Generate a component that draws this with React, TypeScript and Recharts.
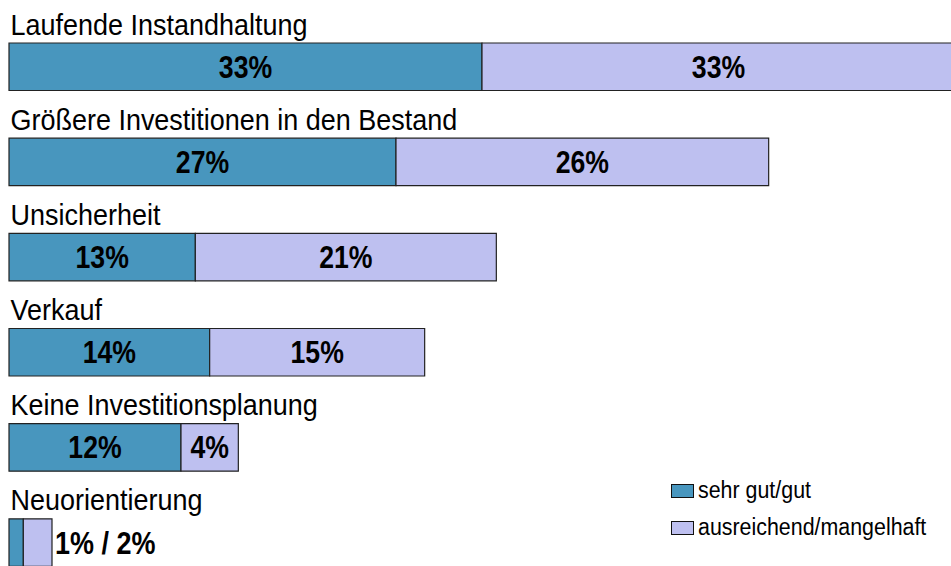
import React from 'react';
import { Bar, BarChart, LabelList, Legend, XAxis, YAxis } from 'recharts';

const categories = [
  'Laufende Instandhaltung',
  'Größere Investitionen in den Bestand',
  'Unsicherheit',
  'Verkauf',
  'Keine Investitionsplanung',
  'Neuorientierung',
];
const sehrGut = [33, 27, 13, 14, 12, 1];
const ausreichend = [33, 26, 21, 15, 4, 2];

const seriesNames = ['sehr gut/gut', 'ausreichend/mangelhaft'];
const colors = ['#4896be', '#bec0f0'];

const data = categories.map((name, i) => ({
  name,
  good: sehrGut[i],
  poor: ausreichend[i],
}));

const FONT = '"Liberation Sans", Arial, sans-serif';

function box(props: any) {
  const vb = props.viewBox ?? props;
  return { x: Number(vb.x), y: Number(vb.y), w: Number(vb.width), h: Number(vb.height) };
}

function CategoryLabel(props: any) {
  const { x, y } = box(props);
  return (
    <text
      transform={`translate(${x + 1.5}, ${y - 8.5}) scale(0.93, 1)`}
      fontFamily={FONT}
      fontSize={29}
      fill="#000"
    >
      {props.value}
    </text>
  );
}

// small segments get one combined label to the right of the bar
function ValueLabel(props: any) {
  const { x, y, w, h } = box(props);
  const i = props.index;
  const narrow = sehrGut[i] * 14.33 < 30;
  const cy = y + h / 2 + 11;
  if (narrow) {
    if (props.series !== 'poor') return null;
    return (
      <text
        transform={`translate(${x + w + 3}, ${cy}) scale(0.87, 1)`}
        fontFamily={FONT}
        fontSize={31}
        fontWeight="bold"
        fill="#000"
      >
        {`${sehrGut[i]}% / ${ausreichend[i]}%`}
      </text>
    );
  }
  return (
    <text
      transform={`translate(${x + w / 2}, ${cy}) scale(0.86, 1)`}
      textAnchor="middle"
      fontFamily={FONT}
      fontSize={31}
      fontWeight="bold"
      fill="#000"
    >
      {`${props.value}%`}
    </text>
  );
}

function LegendBox() {
  return (
    <div style={{ fontFamily: FONT, fontSize: 23, color: '#000' }}>
      {seriesNames.map((n, i) => (
        <div key={n} style={{ display: 'flex', alignItems: 'center', height: 37 }}>
          <span
            style={{
              display: 'inline-block',
              width: 21,
              height: 12,
              background: colors[i],
              border: '1.5px solid #111',
              marginRight: 4,
            }}
          />
          <span style={{ display: 'inline-block', transform: 'scaleX(0.93)', transformOrigin: 'left center', whiteSpace: 'nowrap' }}>
            {n}
          </span>
        </div>
      ))}
    </div>
  );
}

export default function App() {
  return (
    <div
      style={{
        position: 'absolute',
        left: 0,
        top: 0,
        width: 951,
        height: 566,
        overflow: 'hidden',
        background: '#fff',
      }}
    >
      <BarChart
        width={955}
        height={590}
        data={data}
        layout="vertical"
        margin={{ top: 19, right: 0, bottom: 0, left: 9 }}
        barSize={47.5}
      >
        <XAxis type="number" domain={[0, 66]} hide />
        <YAxis
          type="category"
          dataKey="name"
          width={0}
          tick={false}
          tickLine={false}
          axisLine={{ stroke: '#000', strokeWidth: 1 }}
        />
        <Legend
          layout="horizontal"
          align="center"
          verticalAlign="middle"
          wrapperStyle={{ left: 671, top: 472, width: 280 }}
          content={() => <LegendBox />}
        />
        <Bar
          dataKey="good"
          name={seriesNames[0]}
          stackId="a"
          fill={colors[0]}
          stroke="#222"
          strokeWidth={1.2}
          isAnimationActive={false}
        >
          <LabelList dataKey="name" content={(p: any) => <CategoryLabel {...p} />} />
          <LabelList dataKey="good" content={(p: any) => <ValueLabel {...p} series="good" />} />
        </Bar>
        <Bar
          dataKey="poor"
          name={seriesNames[1]}
          stackId="a"
          fill={colors[1]}
          stroke="#222"
          strokeWidth={1.2}
          isAnimationActive={false}
        >
          <LabelList dataKey="poor" content={(p: any) => <ValueLabel {...p} series="poor" />} />
        </Bar>
      </BarChart>
    </div>
  );
}
